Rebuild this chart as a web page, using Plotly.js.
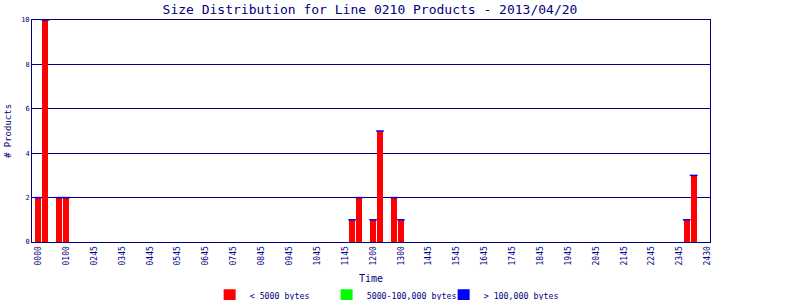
<!DOCTYPE html>
<html>
<head>
<meta charset="utf-8">
<script src="https://cdn.plot.ly/plotly-3.0.1.min.js"></script>
<style>html,body{margin:0;padding:0;background:#fff;}#chart{width:800px;height:300px;}</style>
</head>
<body>
<div id="chart"></div>
<script>
// 15-minute time slots on the category axis (0000 .. 2400)
const timeSlots = [];
for (let h = 0; h <= 24; h++) {
  for (let m = 0; m < 60; m += 15) {
    if (h === 24 && m > 0) break;
    timeSlots.push(String(h).padStart(2, '0') + String(m).padStart(2, '0'));
  }
}
// Tick labels as printed on the chart (every 4th slot)
const tickLabels = ['0000','0100','0245','0345','0445','0545','0645','0745','0845','0945','1045','1145',
                    '1200','1300','1445','1545','1645','1745','1845','1945','2045','2145','2245','2345','2430'];
// Slots that have products, and counts per size class
const productSlots = ['0000','0015','0045','0100','1115','1130','1200','1215','1245','1300','2315','2330'];
const smallCounts  = [2, 10, 2, 2, 1, 2, 1, 5, 2, 1, 1, 3];   // < 5000 bytes
const mediumCounts = [0, 0, 0, 0, 0, 0, 0, 0, 0, 0, 0, 0];    // 5000-100,000 bytes
const largeCounts  = [0, 0, 0, 0, 0, 0, 0, 0, 0, 0, 0, 0];    // > 100,000 bytes

const navy = '#000080';
const font = 'DejaVu Sans Mono, Liberation Mono, monospace';
const tickVals = timeSlots.filter((s, i) => i % 4 === 0);

const traces = [
  {type: 'bar', name: '< 5000 bytes', x: productSlots, y: smallCounts,
   marker: {color: '#ff0000'}},
  {type: 'bar', name: '5000-100,000 bytes', x: productSlots, y: mediumCounts,
   marker: {color: '#00ff00'}},
  {type: 'bar', name: '> 100,000 bytes', x: productSlots, y: largeCounts,
   marker: {color: '#0000ff'}},
  // empty spacer entry so the last legend label is not clipped
  {type: 'bar', name: ' ', x: [productSlots[0]], y: [0], showlegend: true,
   marker: {color: 'rgba(0,0,0,0)'}},
  {type: 'scatter', mode: 'markers', showlegend: false, x: productSlots,
   y: productSlots.map((s, i) => smallCounts[i] + mediumCounts[i] + largeCounts[i]),
   marker: {symbol: 'line-ew-open', size: 5.5, color: '#0000ff', line: {width: 1.5, color: '#0000ff'}},
   hoverinfo: 'skip'}
];

const layout = {
  width: 800, height: 300,
  margin: {l: 32, r: 90, t: 20, b: 58, autoexpand: false},
  paper_bgcolor: '#ffffff', plot_bgcolor: '#ffffff',
  barmode: 'stack', bargap: 0.14,
  showlegend: true,
  font: {family: font, color: navy},
  title: {text: 'Size Distribution for Line 0210 Products - 2013/04/20',
          font: {family: font, size: 13, color: navy},
          x: 0.4625, xanchor: 'center', y: 0.97, yanchor: 'middle', yref: 'container'},
  xaxis: {type: 'category', categoryorder: 'array', categoryarray: timeSlots, automargin: false,
          range: [-0.93, 96.34], tickmode: 'array', tickvals: tickVals, ticktext: tickLabels,
          tickangle: -90, tickfont: {family: font, size: 8, color: navy},
          showline: true, mirror: true, linecolor: navy, linewidth: 1,
          showgrid: false, zeroline: false, ticks: '', fixedrange: true,
          title: {text: 'Time', font: {family: font, size: 10, color: navy}, standoff: 10}},
  yaxis: {range: [0, 10], dtick: 2, tickfont: {family: font, size: 7, color: navy}, automargin: false,
          showline: true, mirror: true, linecolor: navy, linewidth: 1,
          showgrid: true, gridcolor: navy, gridwidth: 1, zeroline: false, ticks: '',
          title: {text: '# Products', font: {family: font, size: 9, color: navy}, standoff: 8}},
  legend: {orientation: 'h', x: 0.262, xanchor: 'left', y: -0.24, yanchor: 'middle',
           font: {family: font, size: 8.3, color: navy}, entrywidth: 72,
           traceorder: 'normal', bgcolor: 'rgba(0,0,0,0)'}
};

Plotly.newPlot('chart', traces, layout, {staticPlot: true, displayModeBar: false});
</script>
</body>
</html>
